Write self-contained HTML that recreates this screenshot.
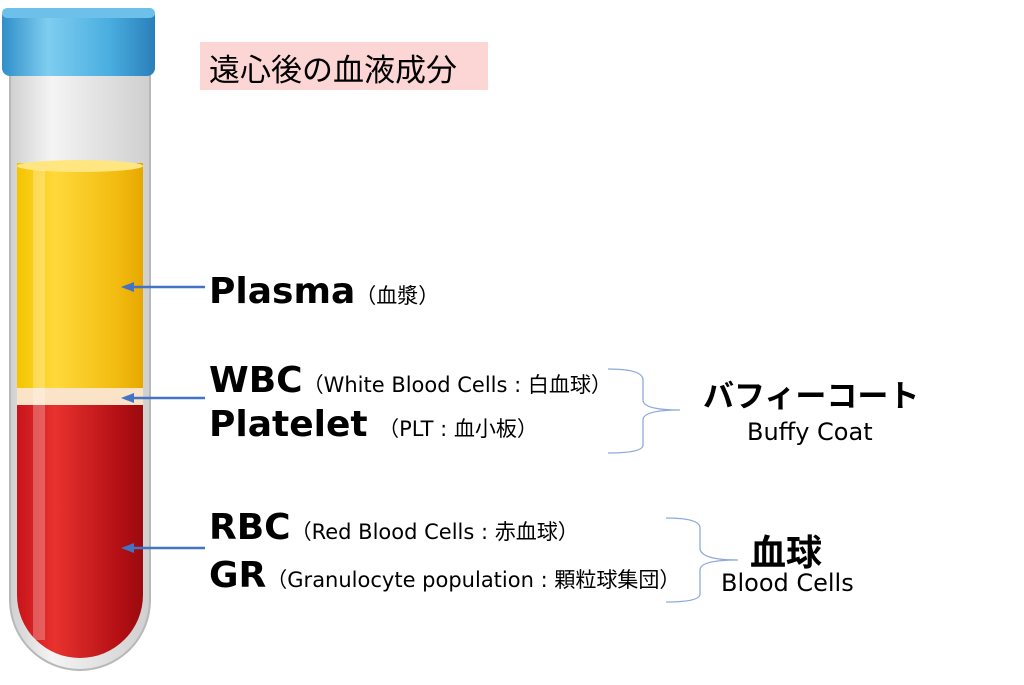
<!DOCTYPE html>
<html><head><meta charset="utf-8"><style>
body{margin:0;width:1024px;height:685px;background:#fff;position:relative;overflow:hidden;font-family:"DejaVu Sans","Noto Sans CJK JP",sans-serif;color:#000}
.t{position:absolute;white-space:nowrap}
.b{font-weight:bold;font-size:36px}
.s{font-size:21px;font-weight:normal}
</style></head><body>
<svg width="1024" height="685" style="position:absolute;left:0;top:0">
<defs>
<linearGradient id="cap" x1="0" x2="1"><stop offset="0" stop-color="#2f8fc8"/><stop offset=".3" stop-color="#7fcdf0"/><stop offset=".7" stop-color="#4aaee0"/><stop offset="1" stop-color="#2a7fb8"/></linearGradient>
<linearGradient id="yel" x1="0" x2="1"><stop offset="0" stop-color="#f5c400"/><stop offset=".3" stop-color="#ffd93a"/><stop offset=".8" stop-color="#f2bb10"/><stop offset="1" stop-color="#e6a800"/></linearGradient>
<linearGradient id="red" x1="0" x2="1"><stop offset="0" stop-color="#c8141a"/><stop offset=".3" stop-color="#e8322e"/><stop offset=".8" stop-color="#b51015"/><stop offset="1" stop-color="#9a0a0e"/></linearGradient>
<linearGradient id="gl" x1="0" x2="1"><stop offset="0" stop-color="#d0d0d0"/><stop offset=".3" stop-color="#f4f4f4"/><stop offset="1" stop-color="#cfcfcf"/></linearGradient>
</defs>
<path d="M10 75 H150 V600 A70 70 0 0 1 10 600 Z" fill="url(#gl)" stroke="#b8b8b8" stroke-width="2"/>
<rect x="17" y="163" width="126" height="225" fill="url(#yel)"/>
<ellipse cx="80" cy="166" rx="63" ry="6" fill="#ffe680"/>
<rect x="17" y="388" width="126" height="17" fill="#fbe3c8"/>
<path d="M17 405 H143 V595 A63 63 0 0 1 17 595 Z" fill="url(#red)"/>
<rect x="33" y="170" width="12" height="470" fill="#fff" opacity=".25"/>
<rect x="2" y="8" width="153" height="68" rx="8" fill="url(#cap)"/>
<rect x="2" y="8" width="153" height="10" rx="5" fill="#6cc0ea"/>
<g stroke="#4472c4" stroke-width="2.5" fill="#4472c4">
<line x1="205" y1="287" x2="130" y2="287"/><path d="M121 287 L134 282 L134 292Z" stroke="none"/>
<line x1="205" y1="398" x2="130" y2="398"/><path d="M121 398 L134 393 L134 403Z" stroke="none"/>
<line x1="205" y1="548" x2="130" y2="548"/><path d="M121 548 L134 543 L134 553Z" stroke="none"/>
</g>
<g stroke="#8eaadb" stroke-width="1.3" fill="none">
<path d="M608 369 Q643 369 643 380 V400 Q643 410 680 410 Q643 410 643 420 V445 Q643 453 608 453"/>
<path d="M666 518 Q700 518 700 528 V548 Q700 560 738 560 Q700 560 700 570 V594 Q700 602 666 602"/>
</g>
</svg>
<div class="t" style="left:200px;top:42px;width:288px;height:48px;background:#fcd5d5"></div>
<div class="t" style="left:209px;top:45px;font-size:31px">遠心後の血液成分</div>
<div class="t b" style="left:209px;top:271px">Plasma<span class="s">（血漿）</span></div>
<div class="t b" style="left:209px;top:360px">WBC<span class="s">（White Blood Cells : 白血球）</span></div>
<div class="t b" style="left:209px;top:404px">Platelet<span class="s">　（PLT : 血小板）</span></div>
<div class="t b" style="left:209px;top:507px">RBC<span class="s">（Red Blood Cells : 赤血球）</span></div>
<div class="t b" style="left:209px;top:555px">GR<span class="s">（Granulocyte population : 顆粒球集団）</span></div>
<div class="t" style="left:703px;top:371px;font-size:31px;font-weight:bold">バフィーコート</div>
<div class="t" style="left:747px;top:418px;font-size:24px">Buffy Coat</div>
<div class="t" style="left:750px;top:524px;font-size:36px;font-weight:bold">血球</div>
<div class="t" style="left:721px;top:569px;font-size:24px">Blood Cells</div>
</body></html>
